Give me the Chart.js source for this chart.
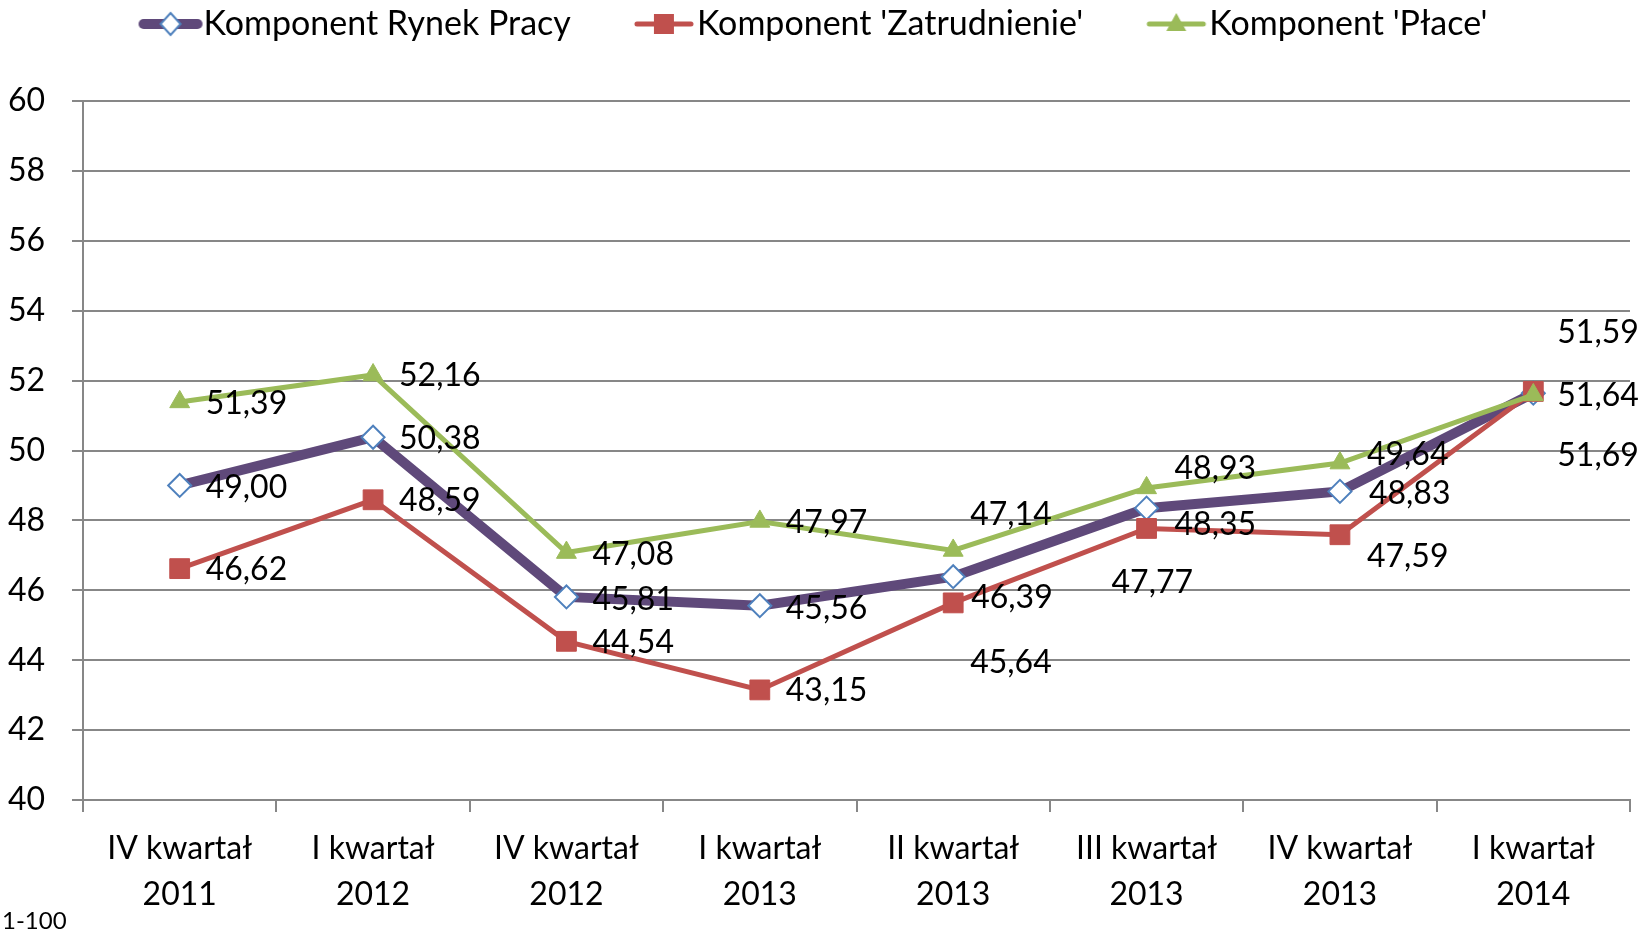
<!DOCTYPE html>
<html>
<head>
<meta charset="utf-8">
<script src="https://cdn.jsdelivr.net/npm/chart.js@4/dist/chart.umd.min.js"></script>
<style>
  html, body { margin: 0; padding: 0; background: #fff; }
</style>
</head>
<body>
<canvas id="rynekChart" width="1651" height="936"></canvas>
<script>
// dane
const quarters = [
    ['IV kwartał', '2011'], ['I kwartał', '2012'], ['IV kwartał', '2012'], ['I kwartał', '2013'],
    ['II kwartał', '2013'], ['III kwartał', '2013'], ['IV kwartał', '2013'], ['I kwartał', '2014']
];
const rynekPracy   = [49.00, 50.38, 45.81, 45.56, 46.39, 48.35, 48.83, 51.64];
const zatrudnienie = [46.62, 48.59, 44.54, 43.15, 45.64, 47.77, 47.59, 51.69];
const place        = [51.39, 52.16, 47.08, 47.97, 47.14, 48.93, 49.64, 51.59];
const yMin = 40, yMax = 60, yStep = 2;

const FONT = 'Lato';
const GRID = '#878787';

// przesunięcia etykiet względem punktu [dx, dy]
const labelNudge = [
    [[26, 2], [26, 1], [26, 3], [26, 3], [18, 21], [28, 17], [29, 2], [24, 3]],
    [[26, 1], [26, 1], [26, 1], [26, 1], [17, 60], [-35, 54], [27, 22], [24, 64]],
    [[26, 2], [26, 1], [26, 2], [26, 1], [17, -36], [28, -19], [27, -8], [24, -62]]
];

// ikona legendy: linia + znacznik (po prawej stronie obrazka)
function legendIcon(color, lineW, drawMarker) {
    const c = document.createElement('canvas');
    c.width = 140; c.height = 30;
    const g = c.getContext('2d');
    g.strokeStyle = color;
    g.lineWidth = lineW;
    g.lineCap = 'round';
    g.beginPath(); g.moveTo(78, 15); g.lineTo(132, 15); g.stroke();
    drawMarker(g, 105, 15);
    return c;
}
const iconRynek = legendIcon('#5F497A', 10, (g, x, y) => {
    g.fillStyle = '#fff'; g.strokeStyle = '#4F81BD'; g.lineWidth = 2;
    g.beginPath(); g.moveTo(x, y - 11); g.lineTo(x + 10, y); g.lineTo(x, y + 11); g.lineTo(x - 10, y); g.closePath();
    g.fill(); g.stroke();
});
const iconZatr = legendIcon('#C0504D', 5, (g, x, y) => {
    g.fillStyle = '#C0504D'; g.fillRect(x - 10, y - 10, 20, 20);
});
const iconPlace = legendIcon('#9BBB59', 5, (g, x, y) => {
    g.fillStyle = '#9BBB59';
    g.beginPath(); g.moveTo(x, y - 11); g.lineTo(x + 10, y + 7); g.lineTo(x - 10, y + 7); g.closePath(); g.fill();
});

const dataLabels = {
    id: 'dataLabels',
    beforeLayout(chart) {
        // więcej miejsca pod legendą, legenda lekko w lewo
        const lg = chart.legend;
        if (lg && !lg._extra) {
            const fit = lg.fit;
            const draw = lg.draw;
            lg.fit = function () { fit.call(this); this.height += 50; };
            lg.draw = function () {
                this.ctx.save();
                this.ctx.translate(-29, 0);
                draw.apply(this, arguments);
                this.ctx.restore();
            };
            lg._extra = true;
        }
    },
    afterDatasetsDraw(chart) {
        const ctx = chart.ctx;
        ctx.save();
        ctx.font = '32px ' + FONT;
        ctx.fillStyle = '#000';
        ctx.textAlign = 'left';
        ctx.textBaseline = 'middle';
        chart.data.datasets.forEach((ds, di) => {
            chart.getDatasetMeta(di).data.forEach((pt, i) => {
                const [dx, dy] = labelNudge[di][i];
                ctx.fillText(ds.data[i].toFixed(2).replace('.', ','), pt.x + dx, pt.y + dy);
            });
        });
        ctx.restore();
    },
    afterDraw(chart) {
        const ctx = chart.ctx;
        ctx.save();
        ctx.font = '24px ' + FONT;
        ctx.fillStyle = '#000';
        ctx.textBaseline = 'middle';
        ctx.fillText('1-100', 2, 921);
        ctx.restore();
    }
};

const ctx = document.getElementById('rynekChart').getContext('2d');
const chart = new Chart(ctx, {
    type: 'line',
    data: {
        labels: quarters,
        datasets: [
            {
                label: 'Komponent Rynek Pracy',
                data: rynekPracy,
                borderColor: '#5F497A',
                borderWidth: 10,
                pointStyle: 'rectRot',
                pointRadius: 11.5,
                pointBackgroundColor: '#fff',
                pointBorderColor: '#4F81BD',
                pointBorderWidth: 2,
                order: 3
            },
            {
                label: "Komponent 'Zatrudnienie'",
                data: zatrudnienie,
                borderColor: '#C0504D',
                borderWidth: 5,
                pointStyle: 'rect',
                pointRadius: 14,
                pointBackgroundColor: '#C0504D',
                pointBorderColor: '#C0504D',
                pointBorderWidth: 1,
                order: 2
            },
            {
                label: "Komponent 'Płace'",
                data: place,
                borderColor: '#9BBB59',
                borderWidth: 5,
                pointStyle: 'triangle',
                pointRadius: 11.5,
                pointBackgroundColor: '#9BBB59',
                pointBorderColor: '#9BBB59',
                pointBorderWidth: 1,
                order: 1
            }
        ]
    },
    options: {
        responsive: false,
        animation: false,
        layout: { padding: { top: 0, right: 21, left: 0, bottom: 0 } },
        plugins: {
            tooltip: { enabled: false },
            legend: {
                position: 'top',
                labels: {
                    usePointStyle: true,
                    pointStyleWidth: 102,
                    padding: 7,
                    color: '#000',
                    font: { family: FONT, size: 34 },
                    generateLabels(chart) {
                        const icons = [iconRynek, iconZatr, iconPlace];
                        return chart.data.datasets.map((ds, i) => ({
                            text: ds.label,
                            pointStyle: icons[i],
                            datasetIndex: i,
                            fontColor: '#000',
                            lineWidth: 0,
                            hidden: false
                        }));
                    }
                }
            }
        },
        scales: {
            x: {
                offset: true,
                grid: { offset: true, drawOnChartArea: false, tickLength: 12, color: GRID, lineWidth: 2 },
                border: { color: GRID, width: 2 },
                ticks: {
                    color: '#000',
                    font: { family: FONT, size: 32, lineHeight: 1.45 },
                    padding: 13,
                    maxRotation: 0,
                    autoSkip: false
                },
                afterFit(s) { s.height = 136; }
            },
            y: {
                min: yMin,
                max: yMax,
                ticks: {
                    stepSize: yStep,
                    color: '#000',
                    font: { family: FONT, size: 32 },
                    padding: 27
                },
                grid: { color: GRID, lineWidth: 2, tickLength: 11 },
                border: { color: GRID, width: 2 },
                afterFit(s) { s.width = 83; }
            }
        }
    },
    plugins: [dataLabels]
});
</script>
</body>
</html>
